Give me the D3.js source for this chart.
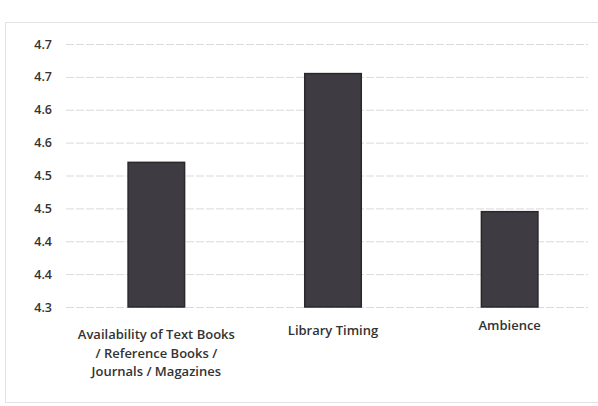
<!DOCTYPE html>
<html><head><meta charset="utf-8">
<script src="https://cdn.jsdelivr.net/npm/d3@7"></script>
<style>body{margin:0;background:#fff}svg{display:block}</style>
</head><body>
<svg id="c" width="598" height="406"></svg>
<script>
const categories = [["Availability of Text Books","/ Reference Books /","Journals / Magazines"],["Library Timing"],["Ambience"]];
const values = [4.52, 4.655, 4.445];
const tickValues = [4.30,4.35,4.40,4.45,4.50,4.55,4.60,4.65,4.70];

const svg = d3.select("#c");
const font = "'Open Sans', Lato, sans-serif";
svg.append("rect").attr("x",5.5).attr("y",22.5).attr("width",600).attr("height",380)
  .attr("fill","none").attr("stroke","#e2e2e2");

const x = d3.scaleBand().domain(d3.range(categories.length)).range([68,598]).paddingInner(0.68).paddingOuter(0.34);
const y = d3.scaleLinear().domain([4.3,4.7]).range([307,44]);

const fmt = d => (Math.round(d*10 + 1e-6)/10).toFixed(1);
const yAxis = d3.axisLeft(y).tickValues(tickValues).tickSize(-(588-66)).tickFormat(fmt).tickPadding(14);
const gy = svg.append("g").attr("transform","translate(66,0)").call(yAxis);
gy.select(".domain").remove();
gy.selectAll(".tick line").attr("stroke","#dadada").attr("stroke-dasharray","8,2");
gy.selectAll(".tick text").attr("font-family",font).attr("font-size",12.5).attr("font-weight",600).attr("fill","#333");

svg.append("g").selectAll("rect").data(values).join("rect")
  .attr("x",(d,i)=>x(i)).attr("width",x.bandwidth())
  .attr("y",d=>y(d)).attr("height",d=>y(4.3)-y(d))
  .attr("fill","#3e3c42").attr("stroke","#2a282d").attr("stroke-width",1.5);

const lab = svg.append("g");
categories.forEach((lines,i)=>{
  const t = lab.append("text").attr("x",x(i)+x.bandwidth()/2).attr("y",[339,335,330][i])
    .attr("text-anchor","middle").attr("font-family",font).attr("font-size",13).attr("font-weight",600).attr("fill","#333");
  lines.forEach((l,j)=>t.append("tspan").attr("x",x(i)+x.bandwidth()/2).attr("dy",j?18.5:0).text(l));
});
</script>
</body></html>
